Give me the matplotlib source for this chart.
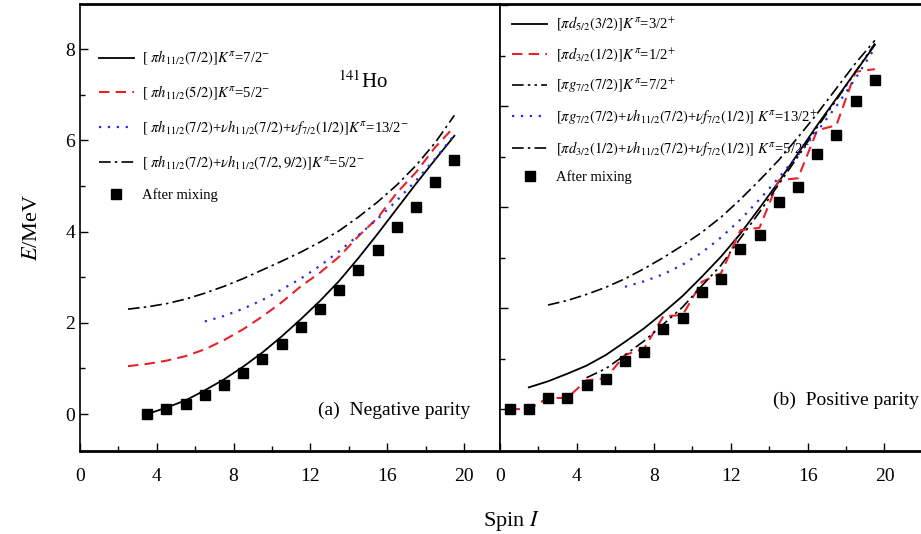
import numpy as np
import matplotlib.pyplot as plt
from matplotlib.ticker import MultipleLocator

plt.rcParams['font.family'] = 'serif'
plt.rcParams['font.serif'] = ['Liberation Serif', 'DejaVu Serif']
plt.rcParams['mathtext.fontset'] = 'stix'

# (a) negative parity, 141Ho
spin_a1 = np.arange(3.5, 20, 1.0)       # 7/2-
e_a1 = [0.0, 0.14, 0.30, 0.52, 0.76, 1.04, 1.35, 1.70, 2.08, 2.48, 2.92,
        3.42, 3.95, 4.50, 5.05, 5.58, 6.10]
spin_a2 = np.arange(2.5, 20, 1.0)       # 5/2-
e_a2 = [1.05, 1.10, 1.17, 1.27, 1.42, 1.62, 1.86, 2.14, 2.45, 2.80, 3.10,
        3.45, 3.90, 4.30, 4.85, 5.30, 5.85, 6.30]
spin_a3 = np.arange(6.5, 20, 1.0)       # 13/2-
e_a3 = [2.03, 2.15, 2.31, 2.50, 2.73, 2.97, 3.25, 3.57, 3.92, 4.28, 4.68,
        5.12, 5.60, 6.12]
spin_a4 = np.arange(2.5, 20, 1.0)       # 5/2- (3qp)
e_a4 = [2.30, 2.35, 2.42, 2.52, 2.65, 2.80, 2.97, 3.16, 3.35, 3.55, 3.77,
        4.02, 4.32, 4.65, 5.02, 5.45, 5.95, 6.55]
spin_amix = np.arange(3.5, 20, 1.0)
e_amix = [0.0, 0.10, 0.23, 0.41, 0.64, 0.90, 1.20, 1.54, 1.90, 2.30, 2.71,
          3.16, 3.60, 4.10, 4.55, 5.08, 5.57]

labels_a = [r'[ $\pi h_{11/2}(7/2)]K^{\pi}$=7/2$^{-}$',
            r'[ $\pi h_{11/2}(5/2)]K^{\pi}$=5/2$^{-}$',
            r'[ $\pi h_{11/2}(7/2)$+$\nu h_{11/2}(7/2)$+$\nu f_{7/2}(1/2)]K^{\pi}$=13/2$^{-}$',
            r'[ $\pi h_{11/2}(7/2)$+$\nu h_{11/2}(7/2,9/2)]K^{\pi}$=5/2$^{-}$',
            'After mixing']

# (b) positive parity
spin_b1 = np.arange(1.5, 20, 1.0)       # 3/2+
e_b1 = [0.43, 0.55, 0.70, 0.86, 1.07, 1.33, 1.60, 1.91, 2.24, 2.62, 3.02,
        3.47, 3.98, 4.50, 5.06, 5.62, 6.15, 6.68, 7.21]
spin_b2 = np.arange(0.5, 20, 1.0)       # 1/2+
e_b2 = [0.0, 0.0, 0.22, 0.22, 0.57, 0.61, 1.07, 1.20, 1.84, 1.86, 2.52,
        2.69, 3.54, 3.59, 4.53, 4.57, 5.52, 5.62, 6.68, 6.73]
spin_b3 = np.arange(4.5, 20, 1.0)       # 7/2+
e_b3 = [0.62, 0.80, 1.07, 1.35, 1.68, 2.02, 2.44, 2.85, 3.38, 3.90, 4.45,
        5.00, 5.58, 6.12, 6.68, 7.24]
spin_b4 = np.arange(6.5, 20, 1.0)       # 13/2+
e_b4 = [2.42, 2.53, 2.67, 2.86, 3.10, 3.40, 3.75, 4.15, 4.58, 5.03, 5.50,
        6.00, 6.55, 7.15]
spin_b5 = np.arange(2.5, 20, 1.0)       # 5/2+
e_b5 = [2.06, 2.15, 2.27, 2.41, 2.58, 2.78, 3.00, 3.24, 3.50, 3.80, 4.15,
        4.53, 4.93, 5.38, 5.85, 6.35, 6.85, 7.30]
spin_bmix = np.arange(0.5, 20, 1.0)
e_bmix = [0.0, 0.0, 0.22, 0.22, 0.48, 0.59, 0.96, 1.13, 1.59, 1.80, 2.32,
          2.57, 3.16, 3.44, 4.10, 4.40, 5.06, 5.43, 6.10, 6.51]

labels_b = [r'[$\pi d_{5/2}(3/2)]K^{\pi}$=3/2$^{+}$',
            r'[$\pi d_{3/2}(1/2)]K^{\pi}$=1/2$^{+}$',
            r'[$\pi g_{7/2}(7/2)]K^{\pi}$=7/2$^{+}$',
            r'[$\pi g_{7/2}(7/2)$+$\nu h_{11/2}(7/2)$+$\nu f_{7/2}(1/2)]$ $K^{\pi}$=13/2$^{+}$',
            r'[$\pi d_{3/2}(1/2)$+$\nu h_{11/2}(7/2)$+$\nu f_{7/2}(1/2)]$ $K^{\pi}$=5/2$^{+}$',
            'After mixing']

red = '#e8222a'
blue = '#2a2ae6'
dashdot = (0, (7, 2.5, 1.5, 2.5))
dashdotdot = (0, (7, 2.5, 1.5, 2.5, 1.5, 2.5))

fig = plt.figure(figsize=(9.21, 5.34), dpi=100)
ax1 = fig.add_axes([80 / 921, 83 / 534, 420 / 921, 447 / 534])
ax2 = fig.add_axes([500 / 921, 83 / 534, 421 / 921, 447 / 534])

ax1.plot(spin_a1, e_a1, color='black', lw=1.3, label=labels_a[0])
ax1.plot(spin_a2, e_a2, color=red, lw=1.5, ls=(0, (5, 3)), label=labels_a[1])
ax1.plot(spin_a3, e_a3, color=blue, lw=1.6, ls=(0, (1, 3)), label=labels_a[2])
ax1.plot(spin_a4, e_a4, color='black', lw=1.2, ls=dashdot, label=labels_a[3])
ax1.plot(spin_amix, e_amix, 's', color='black', ms=7, label=labels_a[4])

ax2.plot(spin_b1, e_b1, color='black', lw=1.3, label=labels_b[0])
ax2.plot(spin_b2, e_b2, color=red, lw=1.5, ls=(0, (5, 3)), label=labels_b[1])
ax2.plot(spin_b3, e_b3, color='black', lw=1.2, ls=dashdotdot, label=labels_b[2])
ax2.plot(spin_b4, e_b4, color=blue, lw=1.6, ls=(0, (1, 3)), label=labels_b[3])
ax2.plot(spin_b5, e_b5, color='black', lw=1.2, ls=dashdot, label=labels_b[4])
ax2.plot(spin_bmix, e_bmix, 's', color='black', ms=7, label=labels_b[5])

ax1.set_xlim(0, 21.875)
ax1.set_ylim(-0.81, 8.99)
ax2.set_xlim(0, 21.9)
ax2.set_ylim(-0.83, 8.02)

for ax in (ax1, ax2):
    ax.xaxis.set_major_locator(MultipleLocator(4))
    ax.xaxis.set_minor_locator(MultipleLocator(2))
    ax.yaxis.set_major_locator(MultipleLocator(2))
    ax.yaxis.set_minor_locator(MultipleLocator(1))
    ax.tick_params(which='both', direction='in', top=False, right=False,
                   labelsize=14)
    ax.tick_params(which='major', length=6, width=1)
    ax.tick_params(which='minor', length=3.5, width=1)
    for s in ax.spines.values():
        s.set_linewidth(1.2)
    ax.spines['top'].set_linewidth(2)
    ax.spines['bottom'].set_linewidth(2)
    ax.tick_params(axis='x', pad=12)
ax2.spines['right'].set_visible(False)
ax2.tick_params(axis='y', labelleft=False)

ax1.set_ylabel(r'$E$/MeV', fontsize=16, labelpad=17)
fig.text(0.555, 0.025, r'Spin $I$', fontsize=16, ha='center', va='center')

ax1.text(0.614, 0.826, r'$^{141}$Ho', transform=ax1.transAxes, fontsize=15,
         ha='left', va='center')
ax1.text(0.93, 0.092, '(a)  Negative parity', transform=ax1.transAxes,
         fontsize=14, ha='right', va='center')
ax2.text(0.995, 0.114, '(b)  Positive parity', transform=ax2.transAxes,
         fontsize=14, ha='right', va='center')

ax1.legend(loc='upper left', bbox_to_anchor=(0.02, 0.922), frameon=False,
           fontsize=10.5, handlelength=2.4, labelspacing=1.12,
           handletextpad=0.6, borderaxespad=0.3)
ax2.legend(loc='upper left', bbox_to_anchor=(0.005, 0.998), frameon=False,
           fontsize=10.5, handlelength=2.4, labelspacing=0.85,
           handletextpad=0.6, borderaxespad=0.3)

fig.savefig('out.png', dpi=100)
